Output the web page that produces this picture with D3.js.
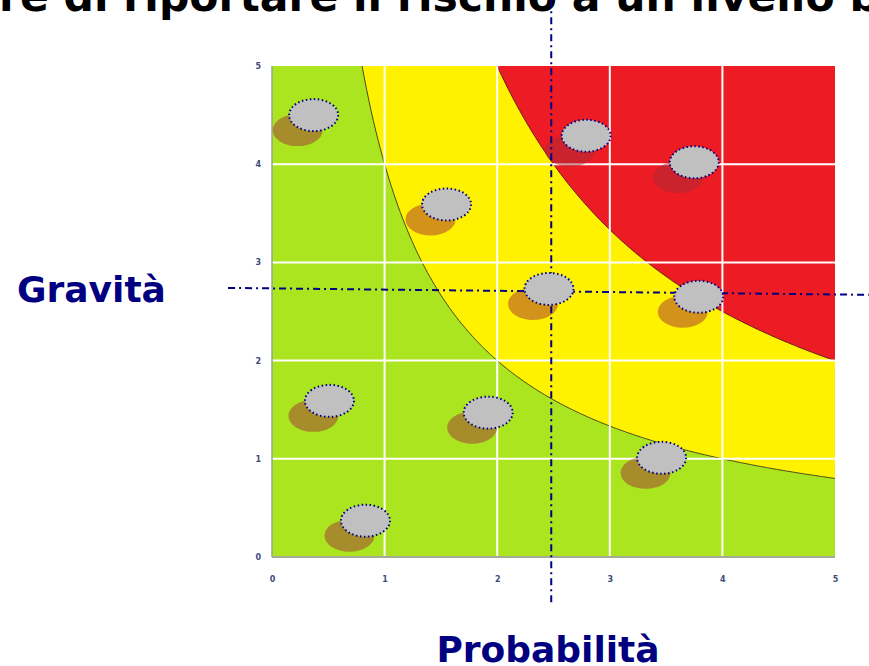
<!DOCTYPE html>
<html>
<head>
<meta charset="utf-8">
<script src="https://cdn.jsdelivr.net/npm/d3@7"></script>
<style>
  body { margin: 0; background: #fff; }
  svg { display: block; }
  .tick text { font-family: "DejaVu Sans", Verdana, sans-serif; font-weight: bold; font-size: 8px; fill: #3d4b7a; }
</style>
</head>
<body>
<div id="chart"></div>
<script>
// risk points: probabilità (x) / gravità (y)
var probabilita = [0.37, 2.79, 3.75, 1.55, 2.46, 3.79, 0.51, 1.92, 3.46, 0.83];
var gravita = [4.50, 4.29, 4.02, 3.59, 2.73, 2.65, 1.59, 1.47, 1.01, 0.37];
var ticks = [0, 1, 2, 3, 4, 5];
var gridValues = [1, 2, 3, 4];
// zone limits (probabilità x gravità)
var zoneLevels = [4, 10];
var zoneColors = ["#abe51f", "#fff200", "#ed1c24"];
// mean cross (dash-dot lines)
var meanProb = [2.48, 2.48];
var meanGrav = [2.74, 2.67];

var width = 869,
  height = 666;
var margin = { top: 66, right: 34, bottom: 109, left: 272 };
var graphWidth = width - margin.left - margin.right,
  graphHeight = height - margin.top - margin.bottom;

var svg = d3.select("#chart").append("svg").attr("width", width).attr("height", height);

var x = d3.scaleLinear().domain([0, 5]).range([margin.left, margin.left + graphWidth]);
var y = d3.scaleLinear().domain([0, 5]).range([margin.top + graphHeight, margin.top]);

// title (cut by the top edge, like in the slide)
svg
  .append("text")
  .text("re di riportare il rischio a un livello basso")
  .attr("x", -1)
  .attr("y", 11)
  .style("font-family", "DejaVu Sans, Verdana, sans-serif")
  .style("font-weight", "bold")
  .style("font-size", "42.5px")
  .attr("fill", "#000");

// zones
svg
  .append("rect")
  .attr("x", x(0))
  .attr("y", y(5))
  .attr("width", x(5) - x(0))
  .attr("height", y(0) - y(5))
  .attr("fill", zoneColors[0]);

zoneLevels.forEach(function (k, i) {
  var xs = d3.range(k / 5, 5.0001, 0.02);
  var area = d3
    .area()
    .x(function (d) { return x(d); })
    .y0(function (d) { return y(Math.min(5, k / d)); })
    .y1(y(5));
  svg.append("path").datum(xs).attr("d", area).attr("fill", zoneColors[i + 1]);
  var line = d3
    .line()
    .x(function (d) { return x(d); })
    .y(function (d) { return y(k / d); });
  svg
    .append("path")
    .datum(xs)
    .attr("d", line)
    .attr("fill", "none")
    .attr("stroke", i === 0 ? "#4a4a1a" : "#6a1a1a")
    .attr("stroke-width", 1);
});

// white grid
svg
  .selectAll("line.gx")
  .data(gridValues)
  .enter()
  .append("line")
  .attr("x1", function (d) { return x(d); })
  .attr("x2", function (d) { return x(d); })
  .attr("y1", y(5))
  .attr("y2", y(0))
  .attr("stroke", "#fff")
  .attr("stroke-width", 2);
svg
  .selectAll("line.gy")
  .data(gridValues)
  .enter()
  .append("line")
  .attr("x1", x(0))
  .attr("x2", x(5))
  .attr("y1", function (d) { return y(d); })
  .attr("y2", function (d) { return y(d); })
  .attr("stroke", "#fff")
  .attr("stroke-width", 2);

// frame edges
svg.append("line").attr("x1", x(0)).attr("x2", x(0)).attr("y1", y(5)).attr("y2", y(0)).attr("stroke", "#9aa38a").attr("stroke-width", 1.5);
svg.append("line").attr("x1", x(0)).attr("x2", x(5)).attr("y1", y(0)).attr("y2", y(0)).attr("stroke", "#a3ab93").attr("stroke-width", 2);

// axes
var gX = svg.append("g").attr("transform", "translate(0," + (y(0) + 16) + ")");
gX.call(d3.axisBottom(x).tickValues(ticks).tickSize(0).tickFormat(d3.format("d")));
gX.select(".domain").remove();
var gY = svg.append("g").attr("transform", "translate(" + (x(0) - 8) + ",0)");
gY.call(d3.axisLeft(y).tickValues(ticks).tickSize(0).tickFormat(d3.format("d")));
gY.select(".domain").remove();

var points = probabilita.map(function (p, i) {
  return { p: p, g: gravita[i] };
});

// shadows
svg
  .selectAll("ellipse.shadow")
  .data(points)
  .enter()
  .append("ellipse")
  .attr("cx", function (d) { return x(d.p) - 16; })
  .attr("cy", function (d) { return y(d.g) + 15; })
  .attr("rx", 25)
  .attr("ry", 16)
  .attr("fill", "#a42b38")
  .attr("fill-opacity", 0.48);

// dash-dot mean lines
svg
  .append("line")
  .attr("x1", x(meanProb[0]))
  .attr("x2", x(meanProb[1]))
  .attr("y1", y(5.67))
  .attr("y2", y(-0.49))
  .attr("stroke", "#000080")
  .attr("stroke-width", 2)
  .attr("stroke-dasharray", "7,4,2,4");
svg
  .append("line")
  .attr("x1", x(-0.39))
  .attr("x2", x(5.3))
  .attr("y1", y(meanGrav[0]))
  .attr("y2", y(meanGrav[1]))
  .attr("stroke", "#000080")
  .attr("stroke-width", 2)
  .attr("stroke-dasharray", "7,4,2,4");

// risk ellipses
svg
  .selectAll("ellipse.risk")
  .data(points)
  .enter()
  .append("ellipse")
  .attr("cx", function (d) { return x(d.p); })
  .attr("cy", function (d) { return y(d.g); })
  .attr("rx", 24.5)
  .attr("ry", 16)
  .attr("fill", "#c0c0c0")
  .attr("stroke", "#000080")
  .attr("stroke-width", 2)
  .attr("stroke-dasharray", "1.5,2.5");

// axis titles
svg
  .append("text")
  .text("Gravità")
  .attr("x", 17)
  .attr("y", 302)
  .style("font-family", "DejaVu Sans, Verdana, sans-serif")
  .style("font-weight", "bold")
  .style("font-size", "36px")
  .attr("fill", "#000080");
svg
  .append("text")
  .text("Probabilità")
  .attr("x", 548)
  .attr("y", 662)
  .attr("text-anchor", "middle")
  .style("font-family", "DejaVu Sans, Verdana, sans-serif")
  .style("font-weight", "bold")
  .style("font-size", "36px")
  .attr("fill", "#000080");
</script>
</body>
</html>
